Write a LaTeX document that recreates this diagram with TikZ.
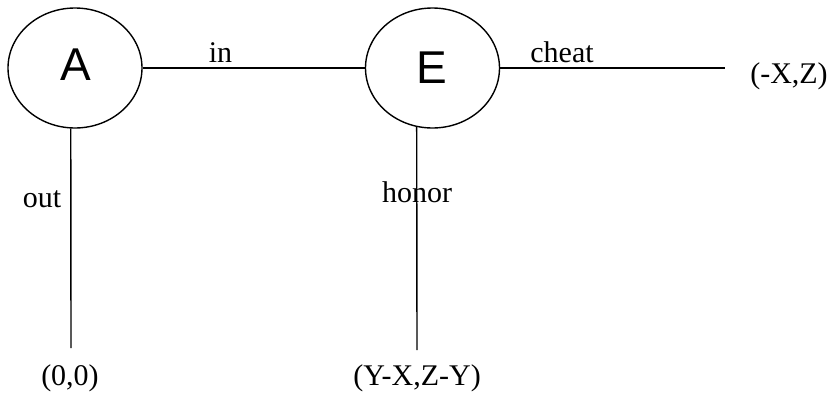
\documentclass[tikz,border=0pt]{standalone}
\usepackage{fontspec}
\setmainfont{Liberation Serif}
\newfontfamily\arialf{Liberation Sans}
\usetikzlibrary{shapes.geometric}
\begin{document}
\begin{tikzpicture}[x=1pt,y=-1pt,
  state/.style={ellipse,draw,line width=1.4pt,minimum width=134pt,minimum height=120pt,inner sep=0pt},
  letter/.style={font=\arialf\fontsize{46}{46}\selectfont,inner sep=0pt,anchor=base},
  edge/.style={line width=1.4pt},
  lbl/.style={font=\fontsize{30}{30}\selectfont,inner sep=0pt,anchor=base}]
\useasboundingbox (0,0) rectangle (831,394);
\node[state] (A) at (75,68) {};
\node[state] (E) at (432.5,68) {};
\node[letter] (Atext) at (75.5,80) {A};
\node[letter] (Etext) at (432,83) {E};
\coordinate (cheatEnd) at (725,68);
\coordinate (outEnd) at (71,348);
\coordinate (honorEnd) at (417,350);
\draw[edge] (A) -- (E);
\draw[edge] (E) -- (cheatEnd);
\draw[edge] (A.266) -- (outEnd);
\draw[edge] (E.255) -- (honorEnd);
\node[lbl] (in) at (220.5,62) {in};
\node[lbl] (cheat) at (562,62) {cheat};
\node[lbl] (pxz) at (789,83) {(-X,Z)};
\node[lbl] (out) at (42,207) {out};
\node[lbl] (honor) at (417,202) {honor};
\node[lbl] (p00) at (70,385) {(0,0)};
\node[lbl] (pyx) at (417,385) {(Y-X,Z-Y)};
\end{tikzpicture}
\end{document}
